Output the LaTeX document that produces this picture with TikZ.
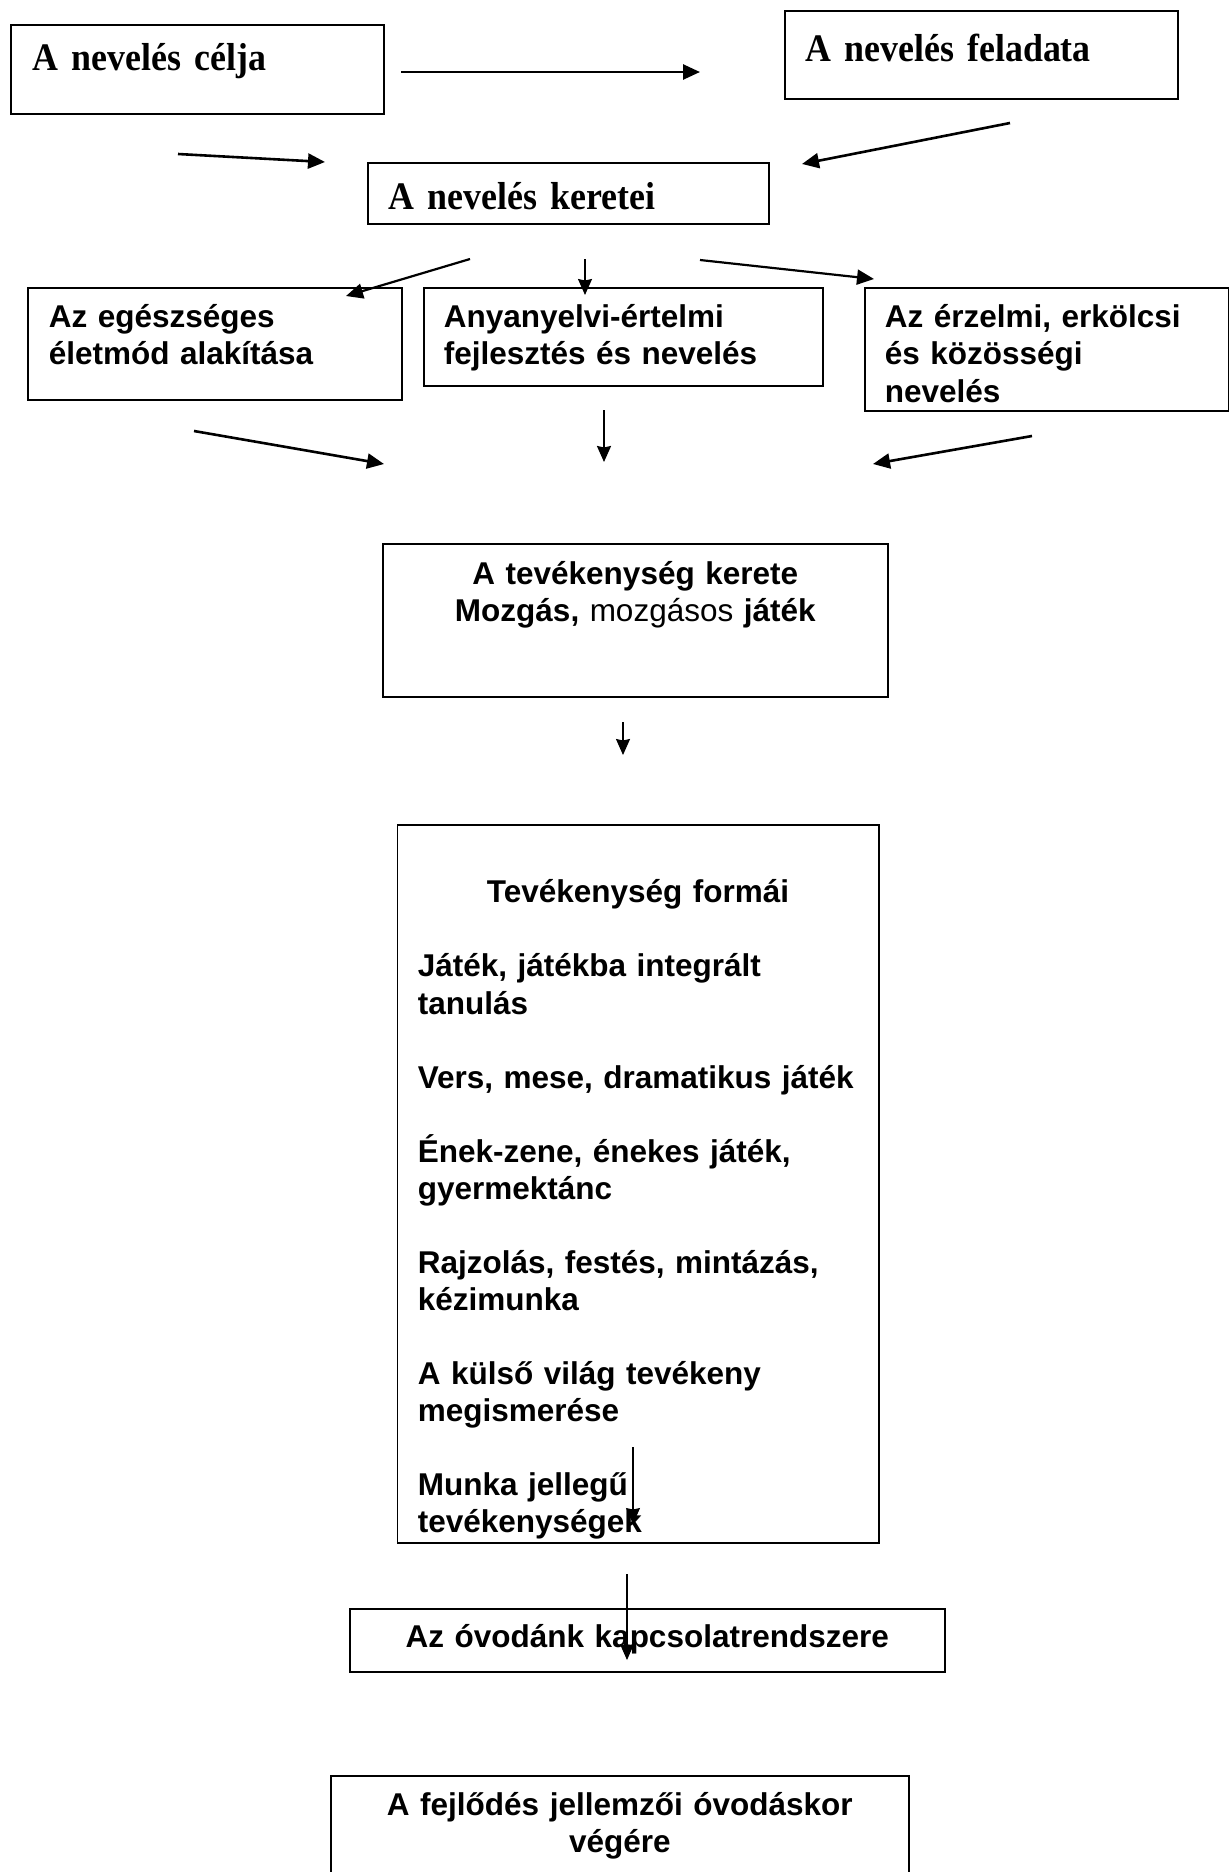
\documentclass[tikz,border=0pt]{standalone}
\usepackage{fontspec}
\setmainfont[FakeStretch=0.92]{Liberation Serif}
\newfontfamily\arialfont{Liberation Sans}
\usetikzlibrary{arrows.meta}
\tikzstyle{box} = [rectangle, draw=black, line width=1.6pt, anchor=north west, inner ysep=0pt, align=left]
\tikzstyle{serifbox} = [box, font=\fontsize{39}{43}\selectfont\bfseries]
\tikzstyle{sansbox} = [box, font=\fontsize{31.5}{37.1}\selectfont\arialfont\bfseries]
\tikzstyle{arrow} = [line width=2.6pt, -{Triangle[length=17pt, width=15pt]}]
\tikzstyle{thinarrow} = [line width=1.6pt, -{Stealth[length=16pt, width=14pt, inset=1.5pt]}]

\begin{document}
\begin{tikzpicture}[x=1pt, y=-1pt]
    \useasboundingbox (0,0) rectangle (1229,1872);

    \node (celja) [serifbox, inner xsep=22pt, text width=329pt, text height=46pt, text depth=43pt] at (10,24) {A nevelés célja};
    \node (feladata) [serifbox, inner xsep=21pt, text width=351pt, text height=51pt, text depth=37pt] at (784,10) {A nevelés feladata};
    \node (keretei) [serifbox, inner xsep=21pt, text width=359pt, text height=47pt, text depth=14pt] at (367,162) {A nevelés keretei};

    \node (eletmod) [sansbox, inner xsep=21pt, text width=332pt, text height=40pt, text depth=72pt] at (27,287) {Az egészséges\\ életmód alakítása};
    \node (anyanyelv) [sansbox, inner xsep=20pt, text width=359pt, text height=40pt, text depth=58pt] at (423,287) {Anyanyelvi-értelmi\\ fejlesztés és nevelés};
    \node (erzelmi) [sansbox, inner xsep=20pt, text width=324pt, text height=40pt, text depth=83pt] at (864,287) {Az érzelmi, erkölcsi\\ és közösségi\\ nevelés};

    \node (kerete) [sansbox, align=center, inner xsep=15pt, text width=475pt, text height=41pt, text depth=112pt] at (382,543) {A tevékenység kerete\\ Mozgás, {\mdseries mozgásos} játék};

    \node (formai) [sansbox, inner xsep=20.5pt, text width=440.5pt, text height=78pt, text depth=640pt] at (396.5,824) {%
        \centerline{Tevékenység formái}\\[37pt]
        Játék, játékba integrált\\ tanulás\\[37pt]
        Vers, mese, dramatikus játék\\[37pt]
        Ének-zene, énekes játék,\\ gyermektánc\\[37pt]
        Rajzolás, festés, mintázás,\\ kézimunka\\[37pt]
        A külső világ tevékeny\\ megismerése\\[37pt]
        Munka jellegű\\ tevékenységek};

    \node (kapcsolat) [sansbox, align=center, inner xsep=15pt, text width=565pt, text height=39pt, text depth=24pt] at (349,1608) {Az óvodánk kapcsolatrendszere};
    \node (jellemzok) [sansbox, align=center, inner xsep=15pt, text width=548pt, text height=40pt, text depth=75pt] at (330,1775) {A fejlődés jellemzői óvodáskor\\ végére};

    % free ends of the arrows
    \coordinate (celjaOut) at (401,72);
    \coordinate (feladataIn) at (700,72);
    \coordinate (celjaDown) at (178,154);
    \coordinate (keretLeft) at (325,162);
    \coordinate (feladataDown) at (1010,123);
    \coordinate (keretRight) at (802,164);
    \coordinate (keretA) at (470,259);
    \coordinate (eletmodIn) at (346,296);
    \coordinate (keretB) at (585,259);
    \coordinate (anyanyelvIn) at (585,295);
    \coordinate (keretC) at (700,260);
    \coordinate (erzelmiIn) at (874,279);
    \coordinate (eletmodOut) at (194,431);
    \coordinate (kereteLeftIn) at (384,464);
    \coordinate (anyanyelvOut) at (604,410);
    \coordinate (kereteIn) at (604,462);
    \coordinate (erzelmiOut) at (1032,436);
    \coordinate (kereteRightIn) at (873,464);
    \coordinate (kereteOut) at (623,722);
    \coordinate (formaiIn) at (623,755);
    \coordinate (munkaTop) at (633,1447);
    \coordinate (munkaTip) at (633,1524);
    \coordinate (formaiOut) at (627,1574);
    \coordinate (kapcsolatIn) at (627,1660);

    \draw [arrow] (celjaOut) -- (feladataIn);
    \draw [arrow] (celjaDown) -- (keretLeft);
    \draw [arrow] (feladataDown) -- (keretRight);
    \draw [arrow, line width=2.2pt] (keretA) -- (eletmodIn);
    \draw [thinarrow] (keretB) -- (anyanyelvIn);
    \draw [arrow, line width=2.2pt] (keretC) -- (erzelmiIn);
    \draw [arrow] (eletmodOut) -- (kereteLeftIn);
    \draw [thinarrow, line width=2pt] (anyanyelvOut) -- (kereteIn);
    \draw [arrow] (erzelmiOut) -- (kereteRightIn);
    \draw [thinarrow] (kereteOut) -- (formaiIn);
    \draw [thinarrow, line width=1.1pt] (munkaTop) -- (munkaTip);
    \draw [thinarrow, line width=1.1pt] (formaiOut) -- (kapcsolatIn);

\end{tikzpicture}
\end{document}
